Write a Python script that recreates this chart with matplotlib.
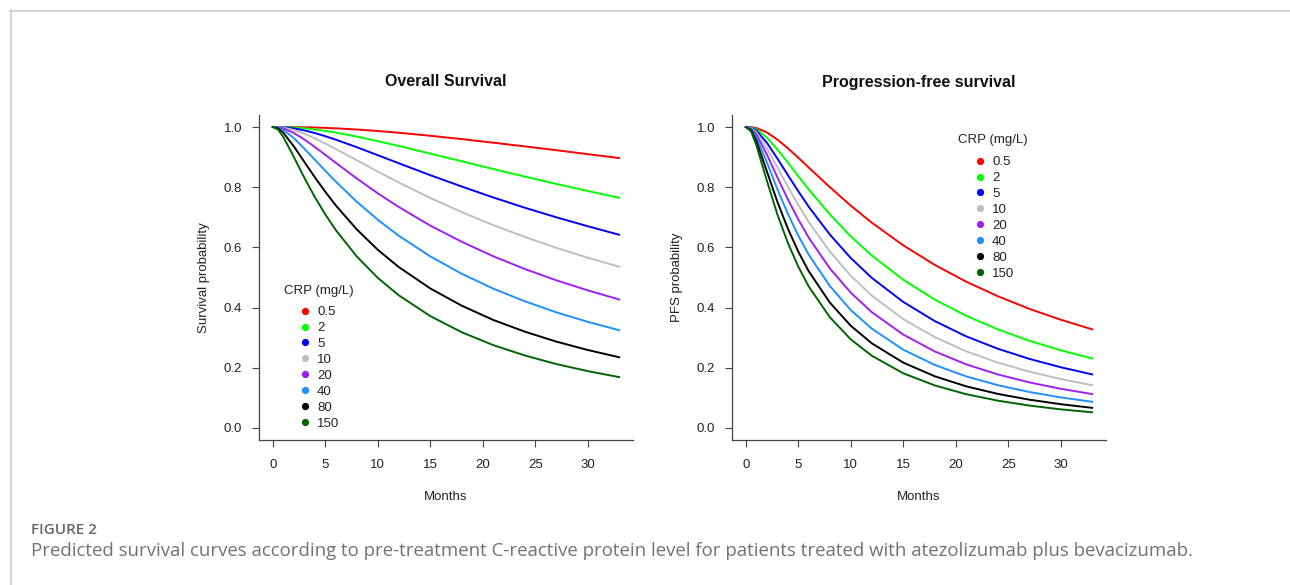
import matplotlib
matplotlib.use("Agg")
import matplotlib.pyplot as plt
from matplotlib.lines import Line2D

plt.rcParams['font.family'] = ['Liberation Sans', 'DejaVu Sans']

months = [0, 0.5, 1, 2, 3, 4, 5, 6, 8, 10, 12, 15, 18, 21, 24, 27, 30, 33]

crp_labels = ['0.5', '2', '5', '10', '20', '40', '80', '150']
crp_colors = ['#FF0000', '#00FF00', '#0000FF', '#BEBEBE', '#A020F0', '#1E90FF', '#000000', '#006400']

# overall survival
os_05 = [1.000, 1.000, 1.000, 0.9998, 0.9993, 0.9984, 0.9972, 0.9957, 0.9918, 0.9868, 0.9810, 0.9710, 0.9599, 0.9480, 0.9357, 0.9231, 0.9099, 0.8970]
os_2 = [1.000, 1.000, 0.9998, 0.9985, 0.9959, 0.9920, 0.9872, 0.9814, 0.9682, 0.9531, 0.9371, 0.9117, 0.8863, 0.8604, 0.8355, 0.8110, 0.7875, 0.7650]
os_5 = [1.000, 0.9999, 0.9992, 0.9954, 0.9888, 0.9800, 0.9695, 0.9580, 0.9330, 0.9064, 0.8797, 0.8400, 0.8023, 0.7660, 0.7320, 0.7002, 0.6704, 0.6421]
os_10 = [1.000, 0.9997, 0.9981, 0.9902, 0.9777, 0.9623, 0.9452, 0.9270, 0.8896, 0.8520, 0.8157, 0.7645, 0.7174, 0.6740, 0.6350, 0.5987, 0.5659, 0.5359]
os_20 = [1.000, 0.9992, 0.9955, 0.9803, 0.9586, 0.9338, 0.9076, 0.8810, 0.8290, 0.7797, 0.7343, 0.6725, 0.6187, 0.5706, 0.5283, 0.4908, 0.4574, 0.4270]
os_40 = [1.000, 0.9981, 0.9904, 0.9632, 0.9284, 0.8914, 0.8545, 0.8186, 0.7517, 0.6918, 0.6387, 0.5702, 0.5124, 0.4630, 0.4211, 0.3844, 0.3527, 0.3249]
os_80 = [1.000, 0.9957, 0.9810, 0.9358, 0.8841, 0.8330, 0.7847, 0.7395, 0.6598, 0.5921, 0.5347, 0.4637, 0.4063, 0.3590, 0.3202, 0.2871, 0.2592, 0.2350]
os_150 = [1.000, 0.9917, 0.9670, 0.9006, 0.8315, 0.7673, 0.7095, 0.6576, 0.5698, 0.4988, 0.4408, 0.3718, 0.3181, 0.2753, 0.2410, 0.2125, 0.1890, 0.1690]

# progression-free survival
pfs_05 = [1.000, 0.9996, 0.9969, 0.9823, 0.9585, 0.9296, 0.8979, 0.8652, 0.8004, 0.7386, 0.6822, 0.6068, 0.5418, 0.4860, 0.4380, 0.3959, 0.3598, 0.3278]
pfs_2 = [1.000, 0.9989, 0.9927, 0.9651, 0.9256, 0.8816, 0.8365, 0.7921, 0.7098, 0.6365, 0.5730, 0.4924, 0.4266, 0.3726, 0.3278, 0.2898, 0.2582, 0.2309]
pfs_5 = [1.000, 0.9980, 0.9880, 0.9480, 0.8956, 0.8404, 0.7864, 0.7347, 0.6428, 0.5647, 0.4988, 0.4188, 0.3553, 0.3043, 0.2634, 0.2297, 0.2018, 0.1780]
pfs_10 = [1.000, 0.9969, 0.9825, 0.9303, 0.8662, 0.8018, 0.7405, 0.6840, 0.5863, 0.5060, 0.4400, 0.3617, 0.3019, 0.2546, 0.2174, 0.1873, 0.1626, 0.1421]
pfs_20 = [1.000, 0.9953, 0.9754, 0.9092, 0.8332, 0.7599, 0.6929, 0.6319, 0.5303, 0.4495, 0.3848, 0.3103, 0.2543, 0.2113, 0.1780, 0.1515, 0.1303, 0.1126]
pfs_40 = [1.000, 0.9928, 0.9655, 0.8828, 0.7939, 0.7119, 0.6391, 0.5753, 0.4717, 0.3917, 0.3300, 0.2601, 0.2095, 0.1713, 0.1423, 0.1196, 0.1015, 0.0869]
pfs_80 = [1.000, 0.9896, 0.9535, 0.8531, 0.7520, 0.6628, 0.5859, 0.5203, 0.4168, 0.3395, 0.2813, 0.2171, 0.1718, 0.1383, 0.1133, 0.0941, 0.0790, 0.0669]
pfs_150 = [1.000, 0.9855, 0.9398, 0.8220, 0.7102, 0.6152, 0.5359, 0.4697, 0.3681, 0.2943, 0.2401, 0.1817, 0.1414, 0.1122, 0.0908, 0.0745, 0.0619, 0.0520]

os_curves = [os_05, os_2, os_5, os_10, os_20, os_40, os_80, os_150]
pfs_curves = [pfs_05, pfs_2, pfs_5, pfs_10, pfs_20, pfs_40, pfs_80, pfs_150]

W, H = 1290, 585
fig = plt.figure(figsize=(W / 100, H / 100), dpi=100)

def px_axes(x0, y0, x1, y1):
    return fig.add_axes([x0 / W, 1 - y1 / H, (x1 - x0) / W, (y1 - y0) / H])

ax1 = px_axes(259, 115, 633, 440)
ax2 = px_axes(732, 115, 1106, 440)

panels = [
    (ax1, os_curves, 'Overall Survival', 'Survival probability'),
    (ax2, pfs_curves, 'Progression-free survival', 'PFS probability'),
]

for ax, curves, title, ylab in panels:
    for vals, col in zip(curves, crp_colors):
        ax.plot(months, vals, color=col, lw=1.4)
    ax.set_xlim(-1.32, 34.32)
    ax.set_ylim(-0.04, 1.04)
    ax.set_xticks([0, 5, 10, 15, 20, 25, 30])
    ax.set_yticks([0.0, 0.2, 0.4, 0.6, 0.8, 1.0])
    ax.set_yticklabels(['0.0', '0.2', '0.4', '0.6', '0.8', '1.0'])
    for s in ['top', 'right']:
        ax.spines[s].set_visible(False)
    for s in ['left', 'bottom']:
        ax.spines[s].set_color('#444444')
        ax.spines[s].set_linewidth(0.9)
    ax.tick_params(axis='both', direction='out', length=5, width=0.8, color='#444444',
                   labelsize=9.5, labelcolor='#222222')
    ax.tick_params(axis='x', pad=9)
    ax.tick_params(axis='y', pad=7)
    ax.set_xlabel('Months', fontsize=9.5, color='#222222')
    ax.xaxis.label.set_va('center')
    ax.xaxis.set_label_coords(0.5, -57 / 325)
    ax.set_ylabel(ylab, fontsize=9.5, color='#222222')
    ax.yaxis.label.set_va('center')
    ax.yaxis.set_label_coords(-55 / 374, 0.5)
    ax.text(0.5, 1 + (115 - 82) / 325, title, transform=ax.transAxes,
            ha='center', va='center', fontsize=11.5, fontweight='bold', color='#111111')

def crp_legend(ax, title_x, title_y, x, y):
    fig.text(title_x / W, 1 - title_y / H, 'CRP (mg/L)', fontsize=9.5, color='#222222',
             ha='left', va='center')
    handles = [Line2D([], [], ls='none', marker='o', ms=4.2, color=c) for c in crp_colors]
    leg = ax.legend(handles, crp_labels, loc='upper left',
                    bbox_to_anchor=(x / W, 1 - y / H), bbox_transform=fig.transFigure,
                    frameon=False, fontsize=9.5, borderpad=0,
                    borderaxespad=0, handlelength=1.0, handletextpad=0.45,
                    labelspacing=0.28)
    for t in leg.get_texts():
        t.set_color('#222222')

crp_legend(ax1, 284.5, 291, 298, 306)
crp_legend(ax2, 958.5, 140, 973, 156)

# page frame
fig.add_artist(Line2D([10 / W, 1], [1 - 10.5 / H, 1 - 10.5 / H], color='#d4d4d4', lw=1.5))
fig.add_artist(Line2D([10.5 / W, 10.5 / W], [0, 1 - 10 / H], color='#d4d4d4', lw=1.5))

fig.text(31 / W, 1 - 530 / H, 'FIGURE 2', fontsize=11, fontweight='semibold', color='#666666',
         family=['Open Sans', 'DejaVu Sans'], va='center', ha='left')
fig.text(31 / W, 1 - 551 / H,
         'Predicted survival curves according to pre-treatment C-reactive protein level '
         'for patients treated with atezolizumab plus bevacizumab.',
         fontsize=13.4, color='#727272', family=['Open Sans', 'DejaVu Sans'],
         va='center', ha='left')

fig.savefig('out.png', dpi=100)
